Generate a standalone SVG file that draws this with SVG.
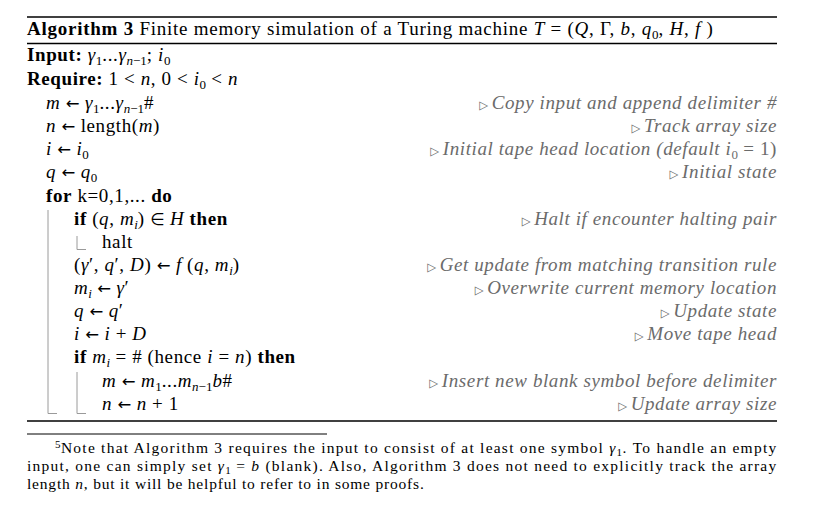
<svg xmlns="http://www.w3.org/2000/svg" width="823" height="514" viewBox="0 0 823 514">
<style>
text{font-family:"Liberation Serif","Times New Roman",serif;font-size:19px;letter-spacing:0.6px;fill:#000}
.ttl{letter-spacing:0.75px}
.b{font-weight:bold}
.i{font-style:italic}
.s{font-size:13px;letter-spacing:0}
.ar{font-family:"DejaVu Sans",sans-serif;font-size:16.5px;font-style:normal;letter-spacing:0}
.c{fill:#6b6b6b;font-style:italic;text-anchor:end}
.tri{font-family:"DejaVu Sans",sans-serif;font-style:normal;font-size:11.5px;letter-spacing:0}
.fn{font-size:15.5px;letter-spacing:0.8px}
.fs{font-size:11px;letter-spacing:0}
.rule{stroke:#000;stroke-width:1.3}
.bar{stroke:#9a9a9a;stroke-width:1;fill:none}
</style>
<rect width="823" height="514" fill="#fff"/>
<g id="rules">
<line class="rule" x1="27" y1="17" x2="777" y2="17"/>
<line class="rule" x1="27" y1="43.5" x2="777" y2="43.5"/>
<line class="rule" x1="27" y1="421" x2="777" y2="421"/>
<line x1="27" y1="434" x2="327" y2="434" stroke="#000" stroke-width="1"/>
</g>
<g id="title">
<text class="ttl" x="27" y="35"><tspan class="b">Algorithm 3</tspan> Finite memory simulation of a Turing machine <tspan class="i">T</tspan> = (<tspan class="i">Q</tspan>, Γ, <tspan class="i">b</tspan>, <tspan class="i">q</tspan><tspan class="s" dy="3.5">0</tspan><tspan dy="-3.5">, </tspan><tspan class="i">H</tspan>, <tspan class="i">f</tspan> )</text>
</g>
<g id="header">
<text x="27" y="61"><tspan class="b">Input:</tspan> <tspan class="i">γ</tspan><tspan class="s" dy="3.5">1</tspan><tspan dy="-3.5">...</tspan><tspan class="i">γ</tspan><tspan class="s i" dy="3.5">n</tspan><tspan class="s" >−1</tspan><tspan dy="-3.5">; </tspan><tspan class="i">i</tspan><tspan class="s" dy="3.5">0</tspan></text>
<text x="27" y="85"><tspan class="b">Require:</tspan> 1 &lt; <tspan class="i">n</tspan>, 0 &lt; <tspan class="i">i</tspan><tspan class="s" dy="3.5">0</tspan><tspan dy="-3.5"> &lt; </tspan><tspan class="i">n</tspan></text>
</g>
<g id="body">
<text x="46" y="109"><tspan class="i">m</tspan> <tspan class="ar">←</tspan> <tspan class="i">γ</tspan><tspan class="s" dy="3.5">1</tspan><tspan dy="-3.5">...</tspan><tspan class="i">γ</tspan><tspan class="s i" dy="3.5">n</tspan><tspan class="s">−1</tspan><tspan dy="-3.5">#</tspan></text>
<text x="46" y="132"><tspan class="i">n</tspan> <tspan class="ar">←</tspan> length(<tspan class="i">m</tspan>)</text>
<text x="46" y="155"><tspan class="i">i</tspan> <tspan class="ar">←</tspan> <tspan class="i">i</tspan><tspan class="s" dy="3.5">0</tspan></text>
<text x="46" y="178"><tspan class="i">q</tspan> <tspan class="ar">←</tspan> <tspan class="i">q</tspan><tspan class="s" dy="3.5">0</tspan></text>
<text x="46" y="202"><tspan class="b">for</tspan> k=0,1,... <tspan class="b">do</tspan></text>
<text x="74" y="225"><tspan class="b">if</tspan> (<tspan class="i">q</tspan>, <tspan class="i">m</tspan><tspan class="s i" dy="3.5">i</tspan><tspan dy="-3.5">) </tspan><tspan class="ar">∈</tspan> <tspan class="i">H</tspan> <tspan class="b">then</tspan></text>
<text x="102" y="248">halt</text>
<text x="74" y="271">(<tspan class="i">γ</tspan>′, <tspan class="i">q</tspan>′, <tspan class="i">D</tspan>) <tspan class="ar">←</tspan> <tspan class="i">f</tspan> (<tspan class="i">q</tspan>, <tspan class="i">m</tspan><tspan class="s i" dy="3.5">i</tspan><tspan dy="-3.5">)</tspan></text>
<text x="74" y="294"><tspan class="i">m</tspan><tspan class="s i" dy="3.5">i</tspan><tspan dy="-3.5"> </tspan><tspan class="ar">←</tspan> <tspan class="i">γ</tspan>′</text>
<text x="74" y="317"><tspan class="i">q</tspan> <tspan class="ar">←</tspan> <tspan class="i">q</tspan>′</text>
<text x="74" y="340"><tspan class="i">i</tspan> <tspan class="ar">←</tspan> <tspan class="i">i</tspan> + <tspan class="i">D</tspan></text>
<text x="74" y="363"><tspan class="b">if</tspan> <tspan class="i">m</tspan><tspan class="s i" dy="3.5">i</tspan><tspan dy="-3.5"> = # (hence </tspan><tspan class="i">i</tspan> = <tspan class="i">n</tspan>) <tspan class="b">then</tspan></text>
<text x="102" y="387"><tspan class="i">m</tspan> <tspan class="ar">←</tspan> <tspan class="i">m</tspan><tspan class="s" dy="3.5">1</tspan><tspan dy="-3.5">...</tspan><tspan class="i">m</tspan><tspan class="s i" dy="3.5">n</tspan><tspan class="s">−1</tspan><tspan class="i" dy="-3.5">b</tspan>#</text>
<text x="102" y="410"><tspan class="i">n</tspan> <tspan class="ar">←</tspan> <tspan class="i">n</tspan> + 1</text>
</g>
<g id="blocks">
<path class="bar" d="M48 210 V413.5 H57"/>
<path class="bar" d="M77 236 V249.5 H86"/>
<path class="bar" d="M77 372 V413.5 H86"/>
</g>
<g id="comments">
<text class="c" x="777" y="109"><tspan class="tri">▷ </tspan>Copy input and append delimiter #</text>
<text class="c" x="777" y="132"><tspan class="tri">▷ </tspan>Track array size</text>
<text class="c" x="777" y="155"><tspan class="tri">▷ </tspan>Initial tape head location (default <tspan>i</tspan><tspan class="s" dy="3.5" font-style="normal">0</tspan><tspan dy="-3.5" font-style="normal"> = 1)</tspan></text>
<text class="c" x="777" y="178"><tspan class="tri">▷ </tspan>Initial state</text>
<text class="c" x="777" y="225"><tspan class="tri">▷ </tspan>Halt if encounter halting pair</text>
<text class="c" x="777" y="271"><tspan class="tri">▷ </tspan>Get update from matching transition rule</text>
<text class="c" x="777" y="294"><tspan class="tri">▷ </tspan>Overwrite current memory location</text>
<text class="c" x="777" y="317"><tspan class="tri">▷ </tspan>Update state</text>
<text class="c" x="777" y="340"><tspan class="tri">▷ </tspan>Move tape head</text>
<text class="c" x="777" y="387"><tspan class="tri">▷ </tspan>Insert new blank symbol before delimiter</text>
<text class="c" x="777" y="410"><tspan class="tri">▷ </tspan>Update array size</text>
</g>
<g id="footnote">
<text class="fn" x="55" y="453" textLength="722" lengthAdjust="spacing"><tspan class="fs" dy="-5">5</tspan><tspan dy="5">Note that Algorithm 3 requires the input to consist of at least one symbol </tspan><tspan class="i">γ</tspan><tspan class="fs" dy="3">1</tspan><tspan dy="-3">.  To handle an empty</tspan></text>
<text class="fn" x="27" y="471" textLength="750" lengthAdjust="spacing">input, one can simply set <tspan class="i">γ</tspan><tspan class="fs" dy="3">1</tspan><tspan dy="-3"> = </tspan><tspan class="i">b</tspan> (blank).  Also, Algorithm 3 does not need to explicitly track the array</text>
<text class="fn" x="27" y="489">length <tspan class="i">n</tspan>, but it will be helpful to refer to in some proofs.</text>
</g>
</svg>
